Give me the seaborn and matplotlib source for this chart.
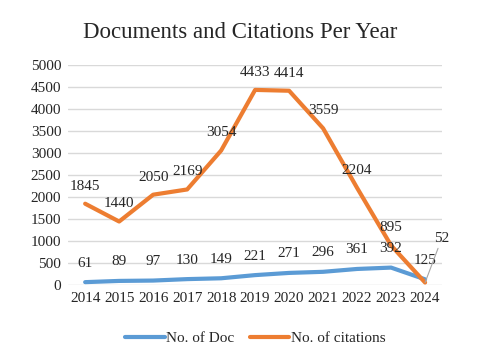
import seaborn as sns
import matplotlib.pyplot as plt
import pandas as pd

years = ["2014", "2015", "2016", "2017", "2018", "2019", "2020", "2021", "2022", "2023", "2024"]
docs = [61, 89, 97, 130, 149, 221, 271, 296, 361, 392, 125]
citations = [1845, 1440, 2050, 2169, 3054, 4433, 4414, 3559, 2204, 895, 52]

df = pd.DataFrame({"year": years * 2,
                   "value": docs + citations,
                   "series": ["No. of Doc"] * len(years) + ["No. of citations"] * len(years)})

sns.set_style("white")
plt.rcParams["font.family"] = ["Liberation Serif", "DejaVu Serif"]

fig = plt.figure(figsize=(4.8, 3.61), dpi=100)
ax = fig.add_axes([0.142, 0.211, 0.779, 0.609])

palette = {"No. of Doc": "#5B9BD5", "No. of citations": "#ED7D31"}
sns.lineplot(data=df, x="year", y="value", hue="series", palette=palette,
             linewidth=3, ax=ax, sort=False)

ax.set_xlim(-0.5, 10.5)
ax.set_ylim(0, 5000)
ax.set_yticks(range(0, 5001, 500))
ax.yaxis.grid(True, color="#D9D9D9", linewidth=1)
ax.set_axisbelow(True)
for s in ax.spines.values():
    s.set_visible(False)
ax.tick_params(axis="both", length=0, labelsize=11, pad=5)
ax.set_xlabel("")
ax.set_ylabel("")

# data labels
for i, v in enumerate(docs):
    ax.annotate(str(v), (i, v), xytext=(0, 9), textcoords="offset points",
                ha="center", va="bottom", fontsize=11)
for i, v in enumerate(citations[:-1]):
    ax.annotate(str(v), (i, v), xytext=(0, 8), textcoords="offset points",
                ha="center", va="bottom", fontsize=11)
ax.annotate(str(citations[-1]), (10, citations[-1]), xytext=(12, 27),
            textcoords="offset points", ha="center", va="bottom", fontsize=11,
            arrowprops=dict(arrowstyle="-", color="#A6A6A6", lw=0.8,
                            shrinkA=0, shrinkB=0))

fig.text(0.5, 0.91, "Documents and Citations Per Year", ha="center", va="center",
         fontsize=16.5)

ax.legend(loc="upper center", bbox_to_anchor=(0.5, -0.15), ncol=2, frameon=False,
          fontsize=11, handlelength=2.6, columnspacing=1.0, handletextpad=0.1)

fig.savefig("out.png", dpi=100)
